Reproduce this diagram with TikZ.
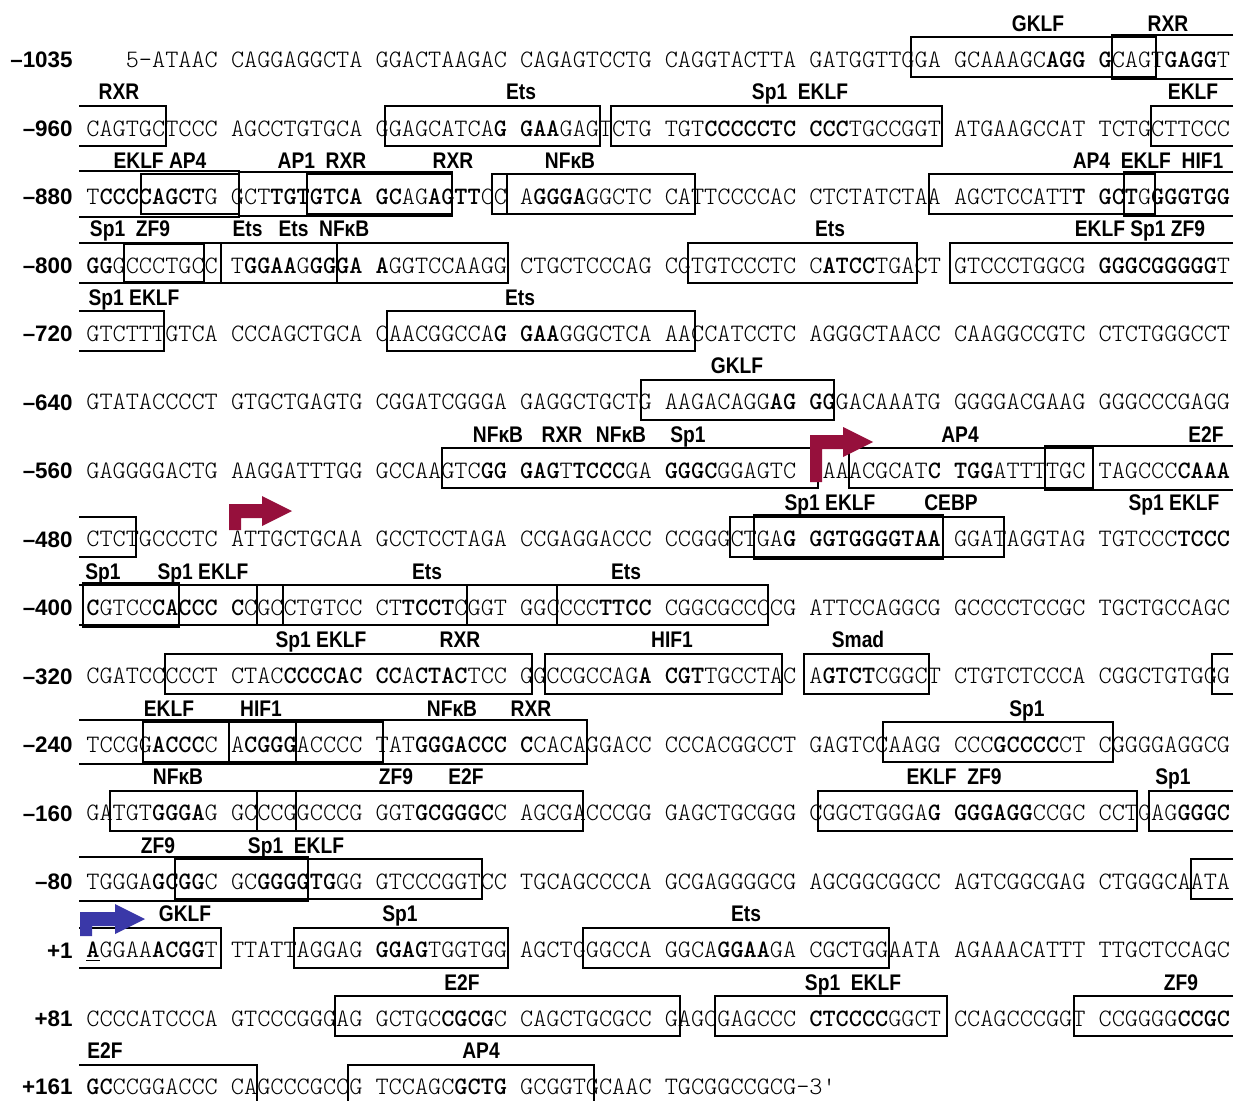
\documentclass[tikz,border=0pt]{standalone}
\usepackage{fontspec}
\newfontfamily\tflabelfont[FakeStretch=0.85]{Liberation Sans}
\newfontfamily\posfont{Liberation Sans}
\definecolor{tssred}{RGB}{150,16,60}
\definecolor{tssblue}{RGB}{58,56,168}
\tikzset{
  seqtext/.style={
    anchor=base west, inner sep=0pt,
    font=\fontfamily{lmtt}\fontseries{l}\fontsize{12.52}{15}\selectfont
  },
  posnum/.style={
    anchor=base east, inner sep=0pt,
    font=\posfont\bfseries\fontsize{11.2}{13}\selectfont
  },
  tflabel/.style={
    anchor=base, inner sep=0pt,
    font=\tflabelfont\bfseries\fontsize{11.3}{13}\selectfont
  },
  motif/.style={draw=black, line width=1pt}
}
% row centre and column edge (in px of the page)
\newcommand\ry[1]{(60+68.47*(#1))}
\newcommand\cx[1]{(86+13.15*(#1))}
\newcommand\seqb[1]{{\fontseries{b}\selectfont#1}}
% boxes: [inset] row, from column, to column
\newcommand\motifbox[4][0]{%
  \draw[motif] ({\cx{#3}},{\ry{#2}-22.5+(#1)}) rectangle ({\cx{#4}},{\ry{#2}+17.5-(#1)});}
\newcommand\motifopenl[3][0]{%
  \draw[motif] (79,{\ry{#2}-22.5+(#1)}) -- ({\cx{#3}},{\ry{#2}-22.5+(#1)})
    -- ({\cx{#3}},{\ry{#2}+17.5-(#1)}) -- (79,{\ry{#2}+17.5-(#1)});}
\newcommand\motifopenr[3][0]{%
  \draw[motif] (1233,{\ry{#2}-22.5+(#1)}) -- ({\cx{#3}},{\ry{#2}-22.5+(#1)})
    -- ({\cx{#3}},{\ry{#2}+17.5-(#1)}) -- (1233,{\ry{#2}+17.5-(#1)});}
% factor label: row, x, text
\newcommand\tf[3]{\node[tflabel] (tf#1-#2) at (#2,{\ry{#1}-28.5}) {#3};}
% start site arrow: name, colour, x, y, stem height, bar length
\newcommand\tssarrow[6]{%
  \coordinate (#1) at (#3,#4);
  \fill[#2] (#1) -- ++(0,-#5) -- ++(#6,0) -- ++(0,-8) -- ++(30,15)
    -- ++(-30,15) -- ++(0,-8) -- ++({12-#6},0) -- ++(0,{#5-14}) -- cycle;}

\begin{document}
\begin{tikzpicture}[x=0.5pt, y=-0.5pt]
  \useasboundingbox (0,0) rectangle (1240,1101);
  \fill[white] (0,0) rectangle (1240,1101);
  \clip (0,0) rectangle (1240,1101);

  % position numbers
  \node[posnum] (pos0) at (73,{\ry{0}+7.9}) {–1035};
  \node[posnum] (pos1) at (73,{\ry{1}+7.9}) {–960};
  \node[posnum] (pos2) at (73,{\ry{2}+7.9}) {–880};
  \node[posnum] (pos3) at (73,{\ry{3}+7.9}) {–800};
  \node[posnum] (pos4) at (73,{\ry{4}+7.9}) {–720};
  \node[posnum] (pos5) at (73,{\ry{5}+7.9}) {–640};
  \node[posnum] (pos6) at (73,{\ry{6}+7.9}) {–560};
  \node[posnum] (pos7) at (73,{\ry{7}+7.9}) {–480};
  \node[posnum] (pos8) at (73,{\ry{8}+7.9}) {–400};
  \node[posnum] (pos9) at (73,{\ry{9}+7.9}) {–320};
  \node[posnum] (pos10) at (73,{\ry{10}+7.9}) {–240};
  \node[posnum] (pos11) at (73,{\ry{11}+7.9}) {–160};
  \node[posnum] (pos12) at (73,{\ry{12}+7.9}) {–80};
  \node[posnum] (pos13) at (73,{\ry{13}+7.9}) {+1};
  \node[posnum] (pos14) at (73,{\ry{14}+7.9}) {+81};
  \node[posnum] (pos15) at (73,{\ry{15}+7.9}) {+161};

  % sequence rows
  \node[seqtext] (seq0) at ({\cx{3}},{\ry{0}+7.6}) {5-ATAAC CAGGAGGCTA GGACTAAGAC CAGAGTCCTG CAGGTACTTA GATGGTTGGA GCAAAGC\seqb{AGG} \seqb{G}CAGT\seqb{GAGG}T};
  \node[seqtext] (seq1) at ({\cx{0}},{\ry{1}+7.6}) {CAGTGCTCCC AGCCTGTGCA GGAGCATCA\seqb{G} \seqb{GAA}GAGTCTG TGT\seqb{CCCCCTC} \seqb{CCC}TGCCGGT ATGAAGCCAT TCTGCTTCCC};
  \node[seqtext] (seq2) at ({\cx{0}},{\ry{2}+7.6}) {T\seqb{CCCCAGCT}G GCT\seqb{TGTGTCA} \seqb{GC}AG\seqb{AGTT}CC A\seqb{GGGA}GGCTC CATTCCCCAC CTCTATCTAA AGCTCCATT\seqb{T} \seqb{GCT}G\seqb{GGGTGG}};
  \node[seqtext] (seq3) at ({\cx{0}},{\ry{3}+7.6}) {\seqb{GG}GCCCTGCC T\seqb{GGAA}G\seqb{GGGA} \seqb{A}GGTCCAAGG CTGCTCCCAG CGTGTCCCTC C\seqb{ATCC}TGACT GTCCCTGGCG \seqb{GGGCGGGGG}T};
  \node[seqtext] (seq4) at ({\cx{0}},{\ry{4}+7.6}) {GTCTTTGTCA CCCAGCTGCA CAACGGCCA\seqb{G} \seqb{GAA}GGGCTCA AACCATCCTC AGGGCTAACC CAAGGCCGTC CTCTGGGCCT};
  \node[seqtext] (seq5) at ({\cx{0}},{\ry{5}+7.6}) {GTATACCCCT GTGCTGAGTG CGGATCGGGA GAGGCTGCTG AAGACAGG\seqb{AG} \seqb{GG}GACAAATG GGGGACGAAG GGGCCCGAGG};
  \node[seqtext] (seq6) at ({\cx{0}},{\ry{6}+7.6}) {GAGGGGACTG AAGGATTTGG GCCAAGTC\seqb{GG} \seqb{GAG}T\seqb{TCCC}GA \seqb{GGGC}GGAGTC AAAACGCAT\seqb{C} \seqb{TGG}ATTTTGC TAGCCC\seqb{CAAA}};
  \node[seqtext] (seq7) at ({\cx{0}},{\ry{7}+7.6}) {CTCTGCCCTC ATTGCTGCAA GCCTCCTAGA CCGAGGACCC CCGGGCTGA\seqb{G} \seqb{GGTGGGGTAA} GGATAGGTAG TGTCCC\seqb{TCCC}};
  \node[seqtext] (seq8) at ({\cx{0}},{\ry{8}+7.6}) {\seqb{C}GTCC\seqb{CACCC} \seqb{C}CGCCTGTCC CT\seqb{TCCT}CGGT GGCCCC\seqb{TTCC} CGGCGCCCCG ATTCCAGGCG GCCCCTCCGC TGCTGCCAGC};
  \node[seqtext] (seq9) at ({\cx{0}},{\ry{9}+7.6}) {CGATCCCCCT CTAC\seqb{CCCCAC} \seqb{CC}A\seqb{CTAC}TCC GGCCGCCAG\seqb{A} \seqb{CGT}TGCCTAC A\seqb{GTCT}CGGCT CTGTCTCCCA CGGCTGTGGG};
  \node[seqtext] (seq10) at ({\cx{0}},{\ry{10}+7.6}) {TCCGG\seqb{ACCC}C A\seqb{CGGG}ACCCC TAT\seqb{GGGACCC} \seqb{C}CACAGGACC CCCACGGCCT GAGTCCAAGG CCC\seqb{GCCCC}CT CGGGGAGGCG};
  \node[seqtext] (seq11) at ({\cx{0}},{\ry{11}+7.6}) {GATGT\seqb{GGGA}G GCCCGGCCCG GGT\seqb{GCGGGC}C AGCGACCCGG GAGCTGCGGG CGGCTGGGA\seqb{G} \seqb{GGGAGG}CCGC CCTGAG\seqb{GGGC}};
  \node[seqtext] (seq12) at ({\cx{0}},{\ry{12}+7.6}) {TGGGA\seqb{GCGG}C GC\seqb{GGGGTG}GG GTCCCGGTCC TGCAGCCCCA GCGAGGGGCG AGCGGCGGCC AGTCGGCGAG CTGGGCAATA};
  \node[seqtext] (seq13) at ({\cx{0}},{\ry{13}+7.6}) {\underline{\seqb{A}}GGAA\seqb{ACGG}T TTATTAGGAG \seqb{GGAG}TGGTGG AGCTGGGCCA GGCA\seqb{GGAA}GA CGCTGGAATA AGAAACATTT TTGCTCCAGC};
  \node[seqtext] (seq14) at ({\cx{0}},{\ry{14}+7.6}) {CCCCATCCCA GTCCCGGGAG GCTGC\seqb{CGCG}C CAGCTGCGCC GAGCGAGCCC \seqb{CTCCCC}GGCT CCAGCCCGGT CCGGGG\seqb{CCGC}};
  \node[seqtext] (seq15) at ({\cx{0}},{\ry{15}+7.6}) {\seqb{GC}CCGGACCC CAGCCCGCCG TCCAGC\seqb{GCTG} GCGGTGCAAC TGCGGCCGCG-3'};

  % binding site boxes
  \motifbox{0}{62.7}{81.4}
  \motifopenr[-2]{0}{78.0}
  \motifopenl{1}{6.1}
  \motifbox{1}{22.7}{39.1}
  \motifbox{1}{39.9}{65.1}
  \motifopenr{1}{81.0}
  \motifopenl[-3]{2}{11.6}
  \motifbox{2}{4.2}{11.6}
  \motifbox[-2]{2}{11.6}{27.8}
  \motifbox{2}{16.8}{27.8}
  \motifbox{2}{30.9}{32.0}
  \motifbox{2}{30.9}{46.3}
  \motifbox{2}{64.1}{81.3}
  \motifopenr[-2]{2}{78.9}
  \motifopenl{3}{10.3}
  \motifbox[1]{3}{2.9}{9.0}
  \motifbox{3}{10.3}{19.1}
  \motifbox{3}{10.3}{32.1}
  \motifbox{3}{45.8}{63.2}
  \motifopenr{3}{65.7}
  \motifopenl{4}{5.9}
  \motifbox{4}{22.9}{46.3}
  \motifbox{5}{42.2}{56.9}
  \motifbox{6}{27.1}{55.7}
  \motifbox{6}{58.0}{76.6}
  \motifopenr[-2]{6}{72.9}
  \motifopenl{7}{3.8}
  \motifbox{7}{49.0}{69.8}
  \motifbox[-2]{7}{50.8}{65.2}
  \motifbox[-2]{8}{-0.2}{7.1}
  \motifopenl{8}{15.0}
  \motifbox{8}{13.0}{35.8}
  \motifbox{8}{29.0}{51.9}
  \motifbox{9}{6.0}{33.9}
  \motifbox{9}{34.9}{52.9}
  \motifbox{9}{54.6}{64.1}
  \motifopenr{9}{85.6}
  \motifopenl[-2]{10}{16.0}
  \motifbox{10}{4.3}{22.6}
  \motifbox[-2]{10}{10.9}{38.1}
  \motifbox{10}{60.6}{78.1}
  \motifbox{11}{1.8}{16.0}
  \motifbox{11}{13.0}{37.8}
  \motifbox{11}{55.7}{79.9}
  \motifopenr{11}{80.8}
  \motifopenl[-2]{12}{16.9}
  \motifbox{12}{6.8}{30.1}
  \motifopenr{12}{84.0}
  \motifopenl{13}{10.3}
  \motifbox{13}{15.8}{32.1}
  \motifbox{13}{37.8}{61.1}
  \motifbox{14}{18.9}{45.2}
  \motifbox{14}{47.8}{65.5}
  \motifopenr{14}{75.1}
  \motifopenl{15}{13.0}
  \motifbox{15}{19.9}{38.6}

  % factor labels
  \tf{0}{1038}{GKLF}
  \tf{0}{1168}{RXR}
  \tf{1}{119}{RXR}
  \tf{1}{521}{Ets}
  \tf{1}{800}{Sp1~~EKLF}
  \tf{1}{1193}{EKLF}
  \tf{2}{160}{EKLF AP4}
  \tf{2}{322}{AP1~~RXR}
  \tf{2}{453}{RXR}
  \tf{2}{570}{NFκB}
  \tf{2}{1148}{AP4~~EKLF~~HIF1}
  \tf{3}{130}{Sp1~~ZF9}
  \tf{3}{301}{Ets~~~Ets~~NFκB}
  \tf{3}{830}{Ets}
  \tf{3}{1140}{EKLF Sp1 ZF9}
  \tf{4}{134}{Sp1 EKLF}
  \tf{4}{520}{Ets}
  \tf{5}{737}{GKLF}
  \tf{6}{498}{NFκB}
  \tf{6}{562}{RXR}
  \tf{6}{621}{NFκB}
  \tf{6}{688}{Sp1}
  \tf{6}{960}{AP4}
  \tf{6}{1206}{E2F}
  \tf{7}{830}{Sp1 EKLF}
  \tf{7}{951}{CEBP}
  \tf{7}{1174}{Sp1 EKLF}
  \tf{8}{103}{Sp1}
  \tf{8}{203}{Sp1 EKLF}
  \tf{8}{427}{Ets}
  \tf{8}{626}{Ets}
  \tf{9}{321}{Sp1 EKLF}
  \tf{9}{460}{RXR}
  \tf{9}{672}{HIF1}
  \tf{9}{858}{Smad}
  \tf{10}{169}{EKLF}
  \tf{10}{261}{HIF1}
  \tf{10}{452}{NFκB}
  \tf{10}{531}{RXR}
  \tf{10}{1027}{Sp1}
  \tf{11}{178}{NFκB}
  \tf{11}{396}{ZF9}
  \tf{11}{466}{E2F}
  \tf{11}{954}{EKLF~~ZF9}
  \tf{11}{1173}{Sp1}
  \tf{12}{158}{ZF9}
  \tf{12}{296}{Sp1~~EKLF}
  \tf{13}{185}{GKLF}
  \tf{13}{400}{Sp1}
  \tf{13}{746}{Ets}
  \tf{14}{462}{E2F}
  \tf{14}{853}{Sp1~~EKLF}
  \tf{14}{1181}{ZF9}
  \tf{15}{105}{E2F}
  \tf{15}{481}{AP4}

  % transcription start sites
  \tssarrow{tss1}{tssred}{810}{482}{47}{33}
  \tssarrow{tss2}{tssred}{229}{530}{26}{33}
  \tssarrow{tss3}{tssblue}{80}{936}{24}{35}
\end{tikzpicture}
\end{document}
